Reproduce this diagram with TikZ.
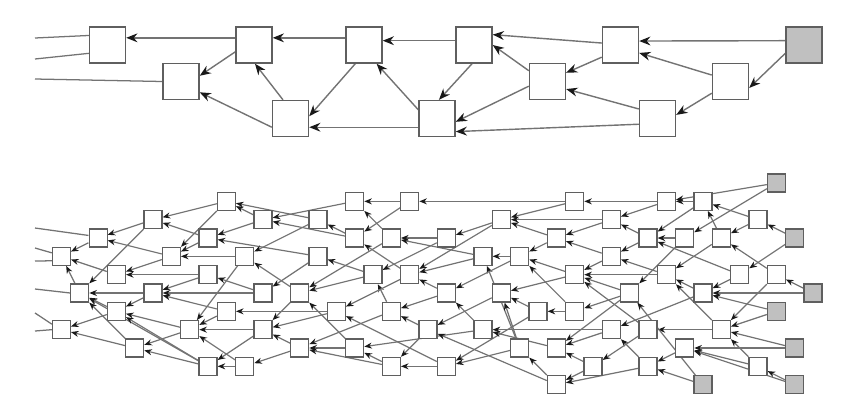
\documentclass[tikz,border=0pt]{standalone}
\usepackage{tikz}
\usetikzlibrary{arrows.meta, backgrounds}
\definecolor{boxline}{RGB}{95,95,95}
\definecolor{edgegray}{RGB}{115,115,115}
\definecolor{tipfill}{RGB}{25,25,25}
\definecolor{srcfill}{RGB}{192,192,192}

\begin{document}
\begin{tikzpicture}[x=0.25mm, y=-0.25mm,
        bigbox/.style={rectangle, draw=boxline, fill=white, line width=1pt, minimum size=9mm, inner sep=0pt},
        bigsrc/.style={bigbox, fill=srcfill},
        smallbox/.style={rectangle, draw=boxline, fill=white, line width=0.8pt, minimum size=4.5mm, inner sep=0pt},
        smallsrc/.style={smallbox, fill=srcfill},
        bigarr/.style={-{Stealth[length=2.8mm, width=2.2mm, color=tipfill]}, line width=1pt, edgegray},
        smallarr/.style={-{Stealth[length=1.9mm, width=1.5mm, color=tipfill]}, line width=0.85pt, edgegray},
        loose/.style={line width=0.9pt, edgegray}]
        \useasboundingbox (0,0) rectangle (857,416);

        % upper graph
        \node[bigbox] (a1)  at (107.5,45)  {};
        \node[bigbox] (a2)  at (181,81.5)  {};
        \node[bigbox] (a3)  at (254,45)    {};
        \node[bigbox] (a4)  at (290.5,118.5) {};
        \node[bigbox] (a5)  at (364,45)    {};
        \node[bigbox] (a6)  at (437,118.5) {};
        \node[bigbox] (a7)  at (474,45)    {};
        \node[bigbox] (a8)  at (547.5,81.5) {};
        \node[bigbox] (a9)  at (620.5,45)  {};
        \node[bigbox] (a10) at (657.5,118.5) {};
        \node[bigbox] (a11) at (730.5,81.5) {};
        \node[bigsrc] (a12) at (804,45)    {};
        \coordinate (ta) at (35,38);
        \coordinate (tb) at (35,59);
        \coordinate (tc) at (35,79);

        % lower graph, one grid cell per box
        \begin{scope}[shift={(1.6mm,-45.75mm)}, x=4.583mm, y=-4.583mm]
          \node[smallsrc] (n42-0) at (42,0) {};
          \node[smallbox] (n12-1) at (12,1) {};
          \node[smallbox] (n19-1) at (19,1) {};
          \node[smallbox] (n22-1) at (22,1) {};
          \node[smallbox] (n31-1) at (31,1) {};
          \node[smallbox] (n36-1) at (36,1) {};
          \node[smallbox] (n38-1) at (38,1) {};
          \node[smallbox] (n8-2)  at (8,2)  {};
          \node[smallbox] (n14-2) at (14,2) {};
          \node[smallbox] (n17-2) at (17,2) {};
          \node[smallbox] (n27-2) at (27,2) {};
          \node[smallbox] (n33-2) at (33,2) {};
          \node[smallbox] (n41-2) at (41,2) {};
          \node[smallbox] (n5-3)  at (5,3)  {};
          \node[smallbox] (n11-3) at (11,3) {};
          \node[smallbox] (n19-3) at (19,3) {};
          \node[smallbox] (n21-3) at (21,3) {};
          \node[smallbox] (n24-3) at (24,3) {};
          \node[smallbox] (n30-3) at (30,3) {};
          \node[smallbox] (n35-3) at (35,3) {};
          \node[smallbox] (n37-3) at (37,3) {};
          \node[smallbox] (n39-3) at (39,3) {};
          \node[smallsrc] (n43-3) at (43,3) {};
          \node[smallbox] (n3-4)  at (3,4)  {};
          \node[smallbox] (n9-4)  at (9,4)  {};
          \node[smallbox] (n13-4) at (13,4) {};
          \node[smallbox] (n17-4) at (17,4) {};
          \node[smallbox] (n26-4) at (26,4) {};
          \node[smallbox] (n28-4) at (28,4) {};
          \node[smallbox] (n33-4) at (33,4) {};
          \node[smallbox] (n6-5)  at (6,5)  {};
          \node[smallbox] (n11-5) at (11,5) {};
          \node[smallbox] (n20-5) at (20,5) {};
          \node[smallbox] (n22-5) at (22,5) {};
          \node[smallbox] (n31-5) at (31,5) {};
          \node[smallbox] (n36-5) at (36,5) {};
          \node[smallbox] (n40-5) at (40,5) {};
          \node[smallbox] (n42-5) at (42,5) {};
          \node[smallbox] (n4-6)  at (4,6)  {};
          \node[smallbox] (n8-6)  at (8,6)  {};
          \node[smallbox] (n14-6) at (14,6) {};
          \node[smallbox] (n16-6) at (16,6) {};
          \node[smallbox] (n24-6) at (24,6) {};
          \node[smallbox] (n27-6) at (27,6) {};
          \node[smallbox] (n34-6) at (34,6) {};
          \node[smallbox] (n38-6) at (38,6) {};
          \node[smallsrc] (n44-6) at (44,6) {};
          \node[smallbox] (n6-7)  at (6,7)  {};
          \node[smallbox] (n12-7) at (12,7) {};
          \node[smallbox] (n18-7) at (18,7) {};
          \node[smallbox] (n21-7) at (21,7) {};
          \node[smallbox] (n29-7) at (29,7) {};
          \node[smallbox] (n31-7) at (31,7) {};
          \node[smallsrc] (n42-7) at (42,7) {};
          \node[smallbox] (n3-8)  at (3,8)  {};
          \node[smallbox] (n10-8) at (10,8) {};
          \node[smallbox] (n14-8) at (14,8) {};
          \node[smallbox] (n23-8) at (23,8) {};
          \node[smallbox] (n26-8) at (26,8) {};
          \node[smallbox] (n33-8) at (33,8) {};
          \node[smallbox] (n35-8) at (35,8) {};
          \node[smallbox] (n39-8) at (39,8) {};
          \node[smallbox] (n7-9)  at (7,9)  {};
          \node[smallbox] (n16-9) at (16,9) {};
          \node[smallbox] (n19-9) at (19,9) {};
          \node[smallbox] (n28-9) at (28,9) {};
          \node[smallbox] (n30-9) at (30,9) {};
          \node[smallbox] (n37-9) at (37,9) {};
          \node[smallsrc] (n43-9) at (43,9) {};
          \node[smallbox] (n11-10) at (11,10) {};
          \node[smallbox] (n13-10) at (13,10) {};
          \node[smallbox] (n21-10) at (21,10) {};
          \node[smallbox] (n24-10) at (24,10) {};
          \node[smallbox] (n32-10) at (32,10) {};
          \node[smallbox] (n35-10) at (35,10) {};
          \node[smallbox] (n41-10) at (41,10) {};
          \node[smallbox] (n30-11) at (30,11) {};
          \node[smallsrc] (n38-11) at (38,11) {};
          \node[smallsrc] (n43-11) at (43,11) {};
        \end{scope}
        \coordinate (la) at (35,228);
        \coordinate (lb) at (35,248);
        \coordinate (lc) at (35,261);
        \coordinate (ld) at (35,289);
        \coordinate (le) at (35,313);
        \coordinate (lf) at (35,331);

        \begin{pgfonlayer}{background}
        \draw[loose] (ta) -- (a1.153);
        \draw[loose] (tb) -- (a1.204);
        \draw[loose] (tc) -- (a2.west);
        \draw[bigarr] (a3.159) -- (a1.21);
        \draw[bigarr] (a3.200) -- (a2.17);
        \draw[bigarr] (a4.205) -- (a2.330);
        \draw[bigarr] (a4.112) -- (a3.273);
        \draw[bigarr] (a5.159) -- (a3.21);
        \draw[bigarr] (a5.245) -- (a4.7);
        \draw[bigarr] (a6.205) -- (a4.335);
        \draw[bigarr] (a6.155) -- (a5.304);
        \draw[bigarr] (a7.167) -- (a5.13);
        \draw[bigarr] (a7.264) -- (a6.84);
        \draw[bigarr] (a8.150) -- (a7.east);
        \draw[bigarr] (a9.174) -- (a7.29);
        \draw[bigarr] (a9.213) -- (a8.25);
        \draw[bigarr] (a8.194) -- (a6.350);
        \draw[bigarr] (a10.153) -- (a8.338);
        \draw[bigarr] (a10.197) -- (a6.325);
        \draw[bigarr] (a12.167) -- (a9.12);
        \draw[bigarr] (a11.161) -- (a9.337);
        \draw[bigarr] (a12.204) -- (a11.341);
        \draw[bigarr] (a11.212) -- (a10.11);

        \draw[loose] (la) -- (n5-3.165);
        \draw[loose] (lb) -- (n3-4.160);
        \draw[loose] (lc) -- (n3-4.205);
        \draw[loose] (ld) -- (n4-6.west);
        \draw[loose] (le) -- (n3-8.150);
        \draw[loose] (lf) -- (n3-8.west);
        \draw[smallarr] (n12-1) -- (n8-2);
        \draw[smallarr] (n12-1) -- (n9-4);
        \draw[smallarr] (n14-2) -- (n12-1);
        \draw[smallarr] (n17-2) -- (n12-1);
        \draw[smallarr] (n14-2) -- (n11-3);
        \draw[smallarr] (n17-4) -- (n11-3);
        \draw[smallarr] (n11-3) -- (n8-2);
        \draw[smallarr] (n11-3) -- (n9-4);
        \draw[smallarr] (n8-2) -- (n5-3);
        \draw[smallarr] (n8-2) -- (n4-6);
        \draw[smallarr] (n5-3) -- (n3-4);
        \draw[smallarr] (n9-4) -- (n5-3);
        \draw[smallarr] (n13-4) -- (n9-4);
        \draw[smallarr] (n9-4) -- (n6-5);
        \draw[smallarr] (n6-5) -- (n3-4);
        \draw[smallarr] (n4-6) -- (n3-4);
        \draw[smallarr] (n11-5) -- (n6-5);
        \draw[smallarr] (n11-5) -- (n8-6);
        \draw[smallarr] (n14-6) -- (n11-5);
        \draw[smallarr] (n16-6) -- (n13-4);
        \draw[smallarr] (n17-2) -- (n13-4);
        \draw[smallarr] (n13-4) -- (n10-8);
        \draw[smallarr] (n8-6) -- (n4-6);
        \draw[smallarr] (n11-10) -- (n4-6);
        \draw[smallarr] (n7-9) -- (n4-6);
        \draw[smallarr] (n6-7) -- (n4-6);
        \draw[smallarr] (n6-7) -- (n3-8);
        \draw[smallarr] (n7-9) -- (n3-8);
        \draw[smallarr] (n8-6) -- (n6-7);
        \draw[smallarr] (n10-8) -- (n6-7);
        \draw[smallarr] (n11-10) -- (n6-7);
        \draw[smallarr] (n10-8) -- (n7-9);
        \draw[smallarr] (n11-10) -- (n7-9);
        \draw[smallarr] (n12-7) -- (n8-6);
        \draw[smallarr] (n14-6) -- (n8-6);
        \draw[smallarr] (n19-1) -- (n14-2);
        \draw[smallarr] (n19-3) -- (n14-2);
        \draw[smallarr] (n19-3) -- (n17-2);
        \draw[smallarr] (n22-1) -- (n19-1);
        \draw[smallarr] (n21-3) -- (n19-1);
        \draw[smallarr] (n22-1) -- (n19-3);
        \draw[smallarr] (n22-5) -- (n19-3);
        \draw[smallarr] (n31-1) -- (n22-1);
        \draw[smallarr] (n20-5) -- (n17-4);
        \draw[smallarr] (n17-4) -- (n14-6);
        \draw[smallarr] (n24-3) -- (n21-3);
        \draw[smallarr] (n26-4) -- (n21-3);
        \draw[smallarr] (n21-3) -- (n16-6);
        \draw[smallarr] (n20-5) -- (n16-6);
        \draw[smallarr] (n19-9) -- (n16-6);
        \draw[smallarr] (n24-3) -- (n20-5);
        \draw[smallarr] (n21-7) -- (n20-5);
        \draw[smallarr] (n27-2) -- (n24-3);
        \draw[smallarr] (n27-2) -- (n22-5);
        \draw[smallarr] (n26-4) -- (n22-5);
        \draw[smallarr] (n24-6) -- (n22-5);
        \draw[smallarr] (n22-5) -- (n18-7);
        \draw[smallarr] (n24-10) -- (n18-7);
        \draw[smallarr] (n28-4) -- (n26-4);
        \draw[smallarr] (n28-9) -- (n26-4);
        \draw[smallarr] (n28-4) -- (n24-6);
        \draw[smallarr] (n26-8) -- (n24-6);
        \draw[smallarr] (n30-3) -- (n28-4);
        \draw[smallarr] (n31-5) -- (n28-4);
        \draw[smallarr] (n31-7) -- (n28-4);
        \draw[smallarr] (n31-1) -- (n27-2);
        \draw[smallarr] (n33-2) -- (n27-2);
        \draw[smallarr] (n30-3) -- (n27-2);
        \draw[smallarr] (n33-2) -- (n30-3);
        \draw[smallarr] (n33-4) -- (n30-3);
        \draw[smallarr] (n36-1) -- (n31-1);
        \draw[smallarr] (n42-0) -- (n36-1);
        \draw[smallarr] (n42-0) -- (n37-3);
        \draw[smallarr] (n38-1) -- (n36-1);
        \draw[smallarr] (n36-1) -- (n33-2);
        \draw[smallarr] (n35-3) -- (n33-2);
        \draw[smallarr] (n41-2) -- (n38-1);
        \draw[smallarr] (n39-3) -- (n38-1);
        \draw[smallarr] (n41-2) -- (n39-3);
        \draw[smallarr] (n43-3) -- (n41-2);
        \draw[smallarr] (n43-3) -- (n40-5);
        \draw[smallarr] (n42-5) -- (n39-3);
        \draw[smallarr] (n44-6) -- (n42-5);
        \draw[smallarr] (n40-5) -- (n38-6);
        \draw[smallarr] (n40-5) -- (n35-3);
        \draw[smallarr] (n38-1) -- (n35-3);
        \draw[smallarr] (n37-3) -- (n35-3);
        \draw[smallarr] (n37-3) -- (n34-6);
        \draw[smallarr] (n35-3) -- (n33-4);
        \draw[smallarr] (n36-5) -- (n33-4);
        \draw[smallarr] (n33-4) -- (n31-5);
        \draw[smallarr] (n36-5) -- (n31-5);
        \draw[smallarr] (n34-6) -- (n31-5);
        \draw[smallarr] (n35-8) -- (n31-5);
        \draw[smallarr] (n38-6) -- (n36-5);
        \draw[smallarr] (n39-8) -- (n36-5);
        \draw[smallarr] (n39-3) -- (n36-5);
        \draw[smallarr] (n44-6) -- (n38-6);
        \draw[smallarr] (n42-7) -- (n38-6);
        \draw[smallarr] (n38-6) -- (n33-8);
        \draw[smallarr] (n42-7) -- (n39-8);
        \draw[smallarr] (n43-9) -- (n39-8);
        \draw[smallarr] (n42-5) -- (n39-8);
        \draw[smallarr] (n41-10) -- (n39-8);
        \draw[smallarr] (n39-8) -- (n35-8);
        \draw[smallarr] (n43-11) -- (n41-10);
        \draw[smallarr] (n43-11) -- (n37-9);
        \draw[smallarr] (n43-9) -- (n37-9);
        \draw[smallarr] (n41-10) -- (n37-9);
        \draw[smallarr] (n37-9) -- (n35-10);
        \draw[smallarr] (n38-11) -- (n34-6);
        \draw[smallarr] (n38-11) -- (n35-10);
        \draw[smallarr] (n35-10) -- (n33-8);
        \draw[smallarr] (n35-10) -- (n30-11);
        \draw[smallarr] (n35-8) -- (n32-10);
        \draw[smallarr] (n34-6) -- (n30-9);
        \draw[smallarr] (n33-8) -- (n30-9);
        \draw[smallarr] (n32-10) -- (n30-9);
        \draw[smallarr] (n32-10) -- (n30-11);
        \draw[smallarr] (n33-8) -- (n26-8);
        \draw[smallarr] (n34-6) -- (n31-7);
        \draw[smallarr] (n31-7) -- (n29-7);
        \draw[smallarr] (n29-7) -- (n27-6);
        \draw[smallarr] (n28-9) -- (n27-6);
        \draw[smallarr] (n31-5) -- (n27-6);
        \draw[smallarr] (n27-6) -- (n23-8);
        \draw[smallarr] (n26-8) -- (n19-9);
        \draw[smallarr] (n29-7) -- (n24-10);
        \draw[smallarr] (n28-9) -- (n24-10);
        \draw[smallarr] (n30-11) -- (n23-8);
        \draw[smallarr] (n30-11) -- (n28-9);
        \draw[smallarr] (n30-9) -- (n26-8);
        \draw[smallarr] (n24-6) -- (n21-7);
        \draw[smallarr] (n23-8) -- (n21-7);
        \draw[smallarr] (n21-7) -- (n16-9);
        \draw[smallarr] (n18-7) -- (n14-8);
        \draw[smallarr] (n18-7) -- (n12-7);
        \draw[smallarr] (n16-6) -- (n14-8);
        \draw[smallarr] (n23-8) -- (n21-10);
        \draw[smallarr] (n24-10) -- (n21-10);
        \draw[smallarr] (n21-10) -- (n19-9);
        \draw[smallarr] (n19-9) -- (n16-9);
        \draw[smallarr] (n21-10) -- (n16-9);
        \draw[smallarr] (n16-9) -- (n13-10);
        \draw[smallarr] (n16-9) -- (n14-8);
        \draw[smallarr] (n12-7) -- (n10-8);
        \draw[smallarr] (n14-8) -- (n10-8);
        \draw[smallarr] (n13-10) -- (n10-8);
        \draw[smallarr] (n13-10) -- (n11-10);
        \draw[smallarr] (n14-8) -- (n11-10);
        \end{pgfonlayer}
      \end{tikzpicture}
\end{document}
